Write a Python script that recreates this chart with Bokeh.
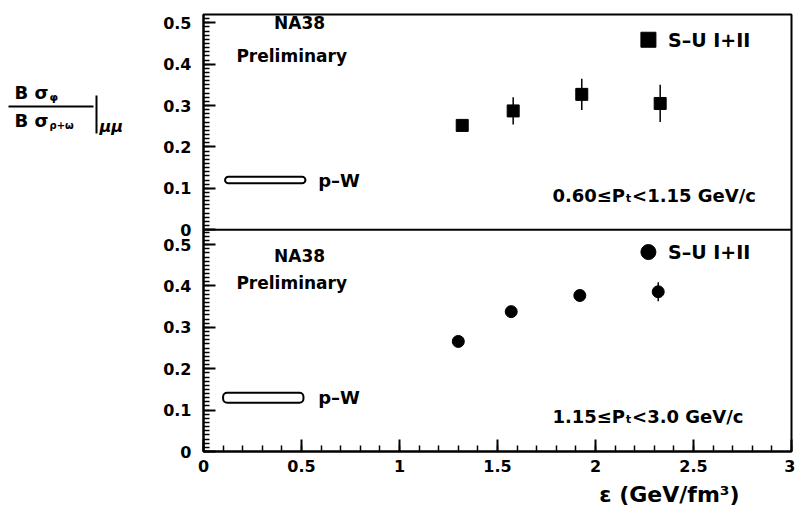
import numpy as np
from bokeh.plotting import figure
from bokeh.layouts import row
from bokeh.models import (Range1d, LinearAxis, FixedTicker, CustomJSTickFormatter,
                          Label, Span, Title, ColumnDataSource)
from bokeh.embed import file_html
from bokeh.resources import INLINE

# ---------------- data ----------------
# upper panel: 0.60 <= PT < 1.15 GeV/c  (S-U I+II, squares)
top_eps = [1.32, 1.58, 1.93, 2.33]
top_ratio = [0.252, 0.287, 0.327, 0.305]
top_err = [0.012, 0.033, 0.038, 0.045]
# lower panel: 1.15 <= PT < 3.0 GeV/c  (S-U I+II, circles)
bot_eps = [1.30, 1.57, 1.92, 2.32]
bot_ratio = [0.266, 0.338, 0.377, 0.386]
bot_err = [0.005, 0.006, 0.008, 0.023]
# p-W reference bands (eps range, ratio range)
pw_top_eps = [0.11, 0.52]
pw_top_ratio = [0.112, 0.128]
pw_bot_eps = [0.10, 0.51]
pw_bot_ratio = [0.118, 0.142]

x_ticks = [0, 0.5, 1, 1.5, 2, 2.5, 3]
y_ticks = [0, 0.1, 0.2, 0.3, 0.4, 0.5]
YB_MAX = 0.536   # lower panel upper limit
YT_MAX = 0.52    # upper panel upper limit

FONT = "DejaVu Sans"
LEFT_W = 150
TOP = 14
FRAME_H = 437

p = figure(frame_width=588, frame_height=FRAME_H, min_border_left=203 - LEFT_W, min_border_right=4,
           min_border_top=TOP, min_border_bottom=10,
           x_range=Range1d(0, 3), y_range=Range1d(0, YB_MAX + YT_MAX),
           x_axis_type=None, y_axis_type=None, tools="",
           output_backend="svg", toolbar_location=None)
p.extra_y_ranges = {"top": Range1d(-YB_MAX, YT_MAX)}
p.outline_line_color = "black"
p.outline_line_width = 2
p.background_fill_color = "white"
p.border_fill_color = "white"

# ---------------- axes ----------------
x_minor = [round(v, 2) for v in np.arange(0, 3.001, 0.1)]
xaxis = LinearAxis(ticker=FixedTicker(ticks=x_ticks, minor_ticks=x_minor),
                   formatter=CustomJSTickFormatter(code="return String(tick);"))
yt_major = list(y_ticks) + [YB_MAX + v for v in y_ticks]
yt_minor = [round(v, 3) for v in np.arange(0, YB_MAX, 0.01)] + \
           [round(YB_MAX + v, 3) for v in np.arange(0, YT_MAX, 0.01)]
yaxis = LinearAxis(ticker=FixedTicker(ticks=yt_major, minor_ticks=yt_minor),
                   formatter=CustomJSTickFormatter(args=dict(off=YB_MAX), code="""
                       const v = tick >= off - 1e-6 ? tick - off : tick;
                       return String(Math.round(v * 10) / 10);"""))
for ax in (xaxis, yaxis):
    ax.axis_line_width = 2
    ax.axis_line_color = "black"
    ax.major_tick_in = 12
    ax.major_tick_out = 0
    ax.minor_tick_in = 6
    ax.minor_tick_out = 0
    ax.major_tick_line_width = 2
    ax.minor_tick_line_width = 1.5
    ax.major_label_text_font = FONT
    ax.major_label_text_font_style = "bold"
    ax.major_label_text_font_size = "16px"
    ax.major_label_text_color = "black"
xaxis.major_label_standoff = 8
yaxis.major_label_standoff = 12
p.add_layout(xaxis, "below")
p.add_layout(yaxis, "left")
p.add_layout(Title(text="\u03b5 (GeV/fm\u00b3)", align="right", offset=52, standoff=10,
                   text_font=FONT, text_font_size="22px", text_font_style="bold",
                   text_color="black"), "below")

# separator between the two panels
p.add_layout(Span(location=YB_MAX, dimension="width", line_color="black", line_width=2))

# ---------------- data marks ----------------
src_t = ColumnDataSource(dict(x=top_eps, y=top_ratio,
                              lo=[v - e for v, e in zip(top_ratio, top_err)],
                              hi=[v + e for v, e in zip(top_ratio, top_err)]))
src_b = ColumnDataSource(dict(x=bot_eps, y=bot_ratio,
                              lo=[v - e for v, e in zip(bot_ratio, bot_err)],
                              hi=[v + e for v, e in zip(bot_ratio, bot_err)]))
p.segment(x0="x", y0="lo", x1="x", y1="hi", source=src_t, y_range_name="top",
          line_color="black", line_width=1.5)
p.scatter("x", "y", source=src_t, y_range_name="top", marker="square", size=12,
          fill_color="black", line_color="black")
p.segment(x0="x", y0="lo", x1="x", y1="hi", source=src_b,
          line_color="black", line_width=1.5)
p.scatter("x", "y", source=src_b, marker="circle", size=12,
          fill_color="black", line_color="black")

# p-W bands
p.quad(left=[pw_top_eps[0]], right=[pw_top_eps[1]], bottom=[pw_top_ratio[0]], top=[pw_top_ratio[1]],
       y_range_name="top", fill_color="white", line_color="black", line_width=2, border_radius=4)
p.quad(left=[pw_bot_eps[0]], right=[pw_bot_eps[1]], bottom=[pw_bot_ratio[0]], top=[pw_bot_ratio[1]],
       fill_color="white", line_color="black", line_width=2, border_radius=4)

# legend markers
p.scatter([2.27], [0.459], y_range_name="top", marker="square", size=15,
          fill_color="black", line_color="black")
p.scatter([2.27], [0.482], marker="circle", size=15, fill_color="black", line_color="black")


def lab(fig, x, y, text, size="17px", align="left", rng="default", style="bold"):
    fig.add_layout(Label(x=x, y=y, text=text, y_range_name=rng, text_font=FONT,
                         text_font_size=size, text_font_style=style, text_align=align,
                         text_baseline="middle", text_color="black"))


# upper panel texts
lab(p, 0.49, 0.50, "NA38", align="center", rng="top")
lab(p, 0.45, 0.42, "Preliminary", align="center", rng="top")
lab(p, 0.585, 0.12, "p\u2013W", size="18px", rng="top")
lab(p, 2.37, 0.459, "S\u2013U  I+II", size="19px", rng="top")
lab(p, 1.78, 0.082, "0.60\u2264P\u209c<1.15 GeV/c", size="18px", rng="top")
# lower panel texts
lab(p, 0.49, 0.473, "NA38", align="center")
lab(p, 0.45, 0.408, "Preliminary", align="center")
lab(p, 0.585, 0.13, "p\u2013W", size="18px")
lab(p, 2.37, 0.482, "S\u2013U  I+II", size="19px")
lab(p, 1.78, 0.085, "1.15\u2264P\u209c<3.0 GeV/c", size="18px")

# ---------------- y axis title (fraction) in a side panel (page-pixel coordinates) ----------------
q = figure(frame_width=LEFT_W, frame_height=FRAME_H,
           min_border_left=0, min_border_right=0, min_border_top=TOP, min_border_bottom=60,
           x_range=Range1d(0, LEFT_W), y_range=Range1d(TOP + FRAME_H, TOP),
           x_axis_type=None, y_axis_type=None, tools="",
           output_backend="svg", toolbar_location=None)
q.outline_line_color = None
q.background_fill_color = "white"
q.border_fill_color = "white"
lab(q, 14, 92, "B \u03c3", size="18px")
lab(q, 49, 97, "\u03c6", size="11px")
q.segment(x0=[8], y0=[106], x1=[93], y1=[106], line_color="black", line_width=2)
lab(q, 14, 120, "B \u03c3", size="18px")
lab(q, 49, 125, "\u03c1+\u03c9", size="10px")
q.segment(x0=[96], y0=[95], x1=[96], y1=[133], line_color="black", line_width=2)
lab(q, 99, 126, "\u03bc\u03bc", size="16px", style="bold italic")

layout = row(q, p)
open("out.html", "w").write(file_html(layout, INLINE))
